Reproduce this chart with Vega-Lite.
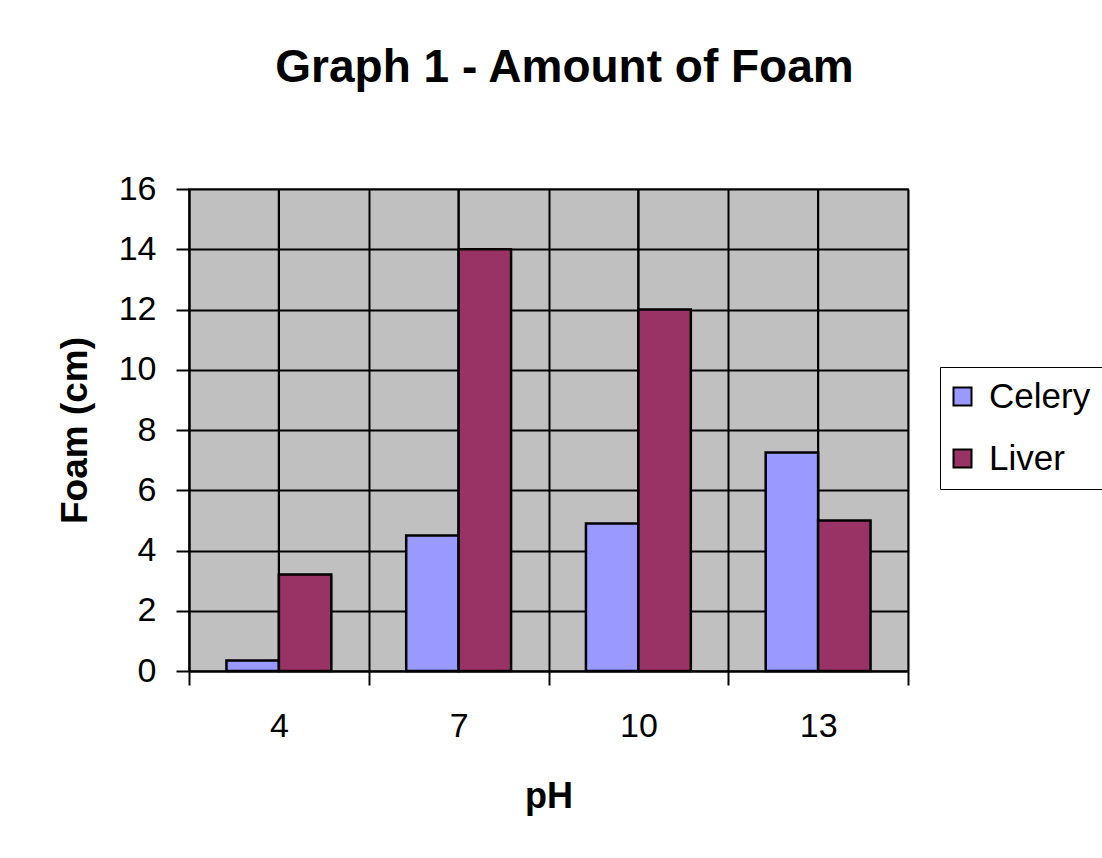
{
  "$schema": "https://vega.github.io/schema/vega-lite/v6.json",
  "autosize": {"type": "none"},
  "width": 719,
  "height": 482,
  "padding": {"left": 189, "top": 189, "right": 194, "bottom": 187},
  "background": "white",
  "title": {
    "text": "Graph 1 - Amount of Foam",
    "font": "Liberation Sans",
    "fontSize": 46,
    "fontWeight": "bold",
    "color": "black",
    "anchor": "middle",
    "dx": 16,
    "offset": 80
  },
  "data": {
    "values": [
      {"pH": "4", "series": "Celery", "foam": 0.35},
      {"pH": "4", "series": "Liver", "foam": 3.2},
      {"pH": "7", "series": "Celery", "foam": 4.5},
      {"pH": "7", "series": "Liver", "foam": 14},
      {"pH": "10", "series": "Celery", "foam": 4.9},
      {"pH": "10", "series": "Liver", "foam": 12},
      {"pH": "13", "series": "Celery", "foam": 7.25},
      {"pH": "13", "series": "Liver", "foam": 5}
    ]
  },
  "encoding": {
    "x": {
      "field": "pH",
      "type": "ordinal",
      "sort": ["4", "7", "10", "13"],
      "scale": {"paddingInner": 0, "paddingOuter": 0},
      "axis": {
        "title": "pH",
        "titleFont": "Liberation Sans",
        "titleFontSize": 36,
        "titleFontWeight": "bold",
        "titleColor": "black",
        "titlePadding": 36,
        "labelFont": "Liberation Sans",
        "labelFontSize": 34,
        "labelColor": "black",
        "labelAngle": 0,
        "labelPadding": 24,
        "tickBand": "extent",
        "tickSize": 14,
        "tickWidth": 2,
        "tickColor": "black",
        "domainColor": "black",
        "domainWidth": 2,
        "grid": true,
        "gridColor": "black",
        "gridWidth": 2,
        "gridOpacity": 1
      }
    }
  },
  "layer": [
    {
      "mark": {"type": "rule", "color": "black", "strokeWidth": 2},
      "encoding": {}
    },
    {
      "mark": {"type": "bar", "stroke": "black", "strokeWidth": 2.5},
      "encoding": {
        "xOffset": {
          "field": "series",
          "type": "nominal",
          "sort": ["Celery", "Liver"],
          "scale": {"paddingInner": 0, "paddingOuter": 0.714}
        },
        "y": {
          "field": "foam",
          "type": "quantitative",
          "scale": {"domain": [0, 16], "nice": false, "zero": true},
          "axis": {
            "title": "Foam (cm)",
            "titleFont": "Liberation Sans",
            "titleFontSize": 37,
            "titleFontWeight": "bold",
            "titleColor": "black",
            "titlePadding": 24,
            "values": [0, 2, 4, 6, 8, 10, 12, 14, 16],
            "labelFont": "Liberation Sans",
            "labelFontSize": 34,
            "labelColor": "black",
            "labelPadding": 20,
            "tickSize": 13,
            "tickWidth": 2,
            "tickColor": "black",
            "domainColor": "black",
            "domainWidth": 2,
            "grid": true,
            "gridColor": "black",
            "gridWidth": 2,
            "gridOpacity": 1
          }
        },
        "fill": {
          "field": "series",
          "type": "nominal",
          "sort": ["Celery", "Liver"],
          "scale": {"domain": ["Celery", "Liver"], "range": ["#9999FF", "#993366"]},
          "legend": {
            "title": null,
            "orient": "none",
            "legendX": 751,
            "legendY": 178,
            "padding": 12,
            "strokeColor": "black",
            "fillColor": "white",
            "symbolType": "square",
            "symbolSize": 324,
            "symbolStrokeColor": "black",
            "symbolStrokeWidth": 2,
            "symbolOpacity": 1,
            "symbolOffset": -7,
            "labelFont": "Liberation Sans",
            "labelFontSize": 35,
            "labelColor": "black",
            "labelOffset": 9,
            "rowPadding": 26,
            "labelLimit": 400
          }
        }
      }
    }
  ],
  "config": {
    "view": {"fill": "#C0C0C0", "stroke": "#808080", "strokeWidth": 2},
    "axis": {"gridOpacity": 1}
  }
}
